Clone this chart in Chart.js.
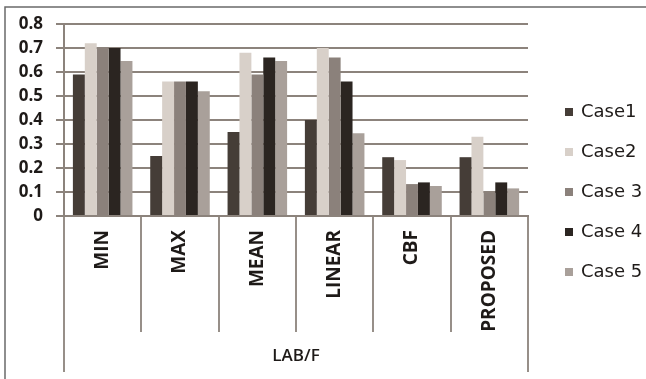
<!DOCTYPE html>
<html>
<head>
<meta charset="utf-8">
<script src="https://cdn.jsdelivr.net/npm/chart.js@4/dist/chart.umd.min.js"></script>
<style>
  html, body { margin: 0; padding: 0; background: #ffffff; }
  #wrap { width: 646px; height: 379px; position: relative; }
</style>
</head>
<body>
<div id="wrap"><canvas id="chart" width="646" height="379"></canvas></div>
<script>
// Methods compared on the LAB/F measure
const categories = ['MIN', 'MAX', 'MEAN', 'LINEAR', 'CBF', 'PROPOSED'];
const groupLabel = 'LAB/F';
const seriesNames = ['Case1', 'Case2', 'Case 3', 'Case 4', 'Case 5'];
const case1 = [0.59, 0.25, 0.35, 0.40, 0.245, 0.245];
const case2 = [0.72, 0.56, 0.68, 0.70, 0.233, 0.33];
const case3 = [0.70, 0.56, 0.59, 0.66, 0.133, 0.097];
const case4 = [0.70, 0.56, 0.66, 0.56, 0.14, 0.14];
const case5 = [0.646, 0.52, 0.646, 0.345, 0.125, 0.115];
const yTicks = [0, 0.1, 0.2, 0.3, 0.4, 0.5, 0.6, 0.7, 0.8];

const seriesColors = ['#453d37', '#d8d0c9', '#8b817b', '#2b2521', '#a9a09a'];
const lineColor = '#8c837c';
const textColor = '#1e1a18';

const seriesValues = [case1, case2, case3, case4, case5];

// Category separators below the axis, outer frame lines and the legend
const decorations = {
  id: 'decorations',
  afterDraw(chart) {
    const ctx = chart.ctx;
    const x = chart.scales.x;
    const area = chart.chartArea;
    ctx.save();
    // frame
    ctx.strokeStyle = '#6a6a6a';
    ctx.lineWidth = 1.5;
    ctx.beginPath();
    ctx.moveTo(5, 379);
    ctx.lineTo(5, 7);
    ctx.lineTo(646, 7);
    ctx.stroke();

    // separators between categories
    ctx.strokeStyle = lineColor;
    ctx.lineWidth = 1.8;
    const n = categories.length;
    for (let i = 0; i <= n; i++) {
      const px = Math.round(x.getPixelForValue(i - 0.5));
      const end = (i === 0 || i === n) ? 372 : 332;
      ctx.beginPath();
      ctx.moveTo(px, area.bottom);
      ctx.lineTo(px, end);
      ctx.stroke();
    }

    // legend
    const ds = chart.data.datasets;
    const lx = 565, ly0 = 112, step = 40;
    ctx.font = '18px "DejaVu Sans"';
    ctx.textBaseline = 'middle';
    ctx.textAlign = 'left';
    ds.forEach((d, i) => {
      const y = ly0 + i * step;
      ctx.fillStyle = d.backgroundColor;
      ctx.fillRect(lx, y - 4, 8, 8);
      ctx.fillStyle = textColor;
      ctx.fillText(d.label, lx + 16, y);
    });
    ctx.restore();
  }
};

new Chart(document.getElementById('chart'), {
  type: 'bar',
  data: {
    labels: categories,
    datasets: seriesNames.map((name, i) => ({
      label: name,
      data: seriesValues[i],
      backgroundColor: seriesColors[i],
      borderWidth: 0,
      categoryPercentage: 0.77,
      barPercentage: 1.0
    }))
  },
  options: {
    responsive: false,
    animation: false,
    devicePixelRatio: 1,
    layout: { padding: { left: 0, top: 24, right: 118, bottom: 0 } },
    plugins: {
      legend: { display: false },
      tooltip: { enabled: false }
    },
    scales: {
      y: {
        min: 0,
        max: 0.8,
        afterBuildTicks(scale) {
          scale.ticks = yTicks.map(v => ({ value: v }));
        },
        afterFit(scale) { scale.width = 64; },
        ticks: {
          color: textColor,
          padding: 13,
          font: { family: '"Open Sans"', size: 17, weight: 'bold' },
          callback: v => String(Math.round(v * 10) / 10)
        },
        grid: {
          color: lineColor,
          lineWidth: 2,
          tickLength: 8
        },
        border: { color: lineColor, width: 2 }
      },
      x: {
        afterFit(scale) { scale.height = 163; },
        ticks: {
          color: textColor,
          minRotation: 90,
          maxRotation: 90,
          padding: 14,
          font: { family: '"Open Sans"', size: 19, weight: 'bold' }
        },
        grid: {
          display: true,
          offset: true,
          drawOnChartArea: false,
          drawTicks: false,
          color: lineColor
        },
        border: { color: lineColor, width: 2 },
        title: {
          display: true,
          text: groupLabel,
          color: textColor,
          padding: { top: 0, bottom: 13 },
          font: { family: '"Open Sans"', size: 17, weight: '600' }
        }
      }
    }
  },
  plugins: [decorations]
});
</script>
</body>
</html>
